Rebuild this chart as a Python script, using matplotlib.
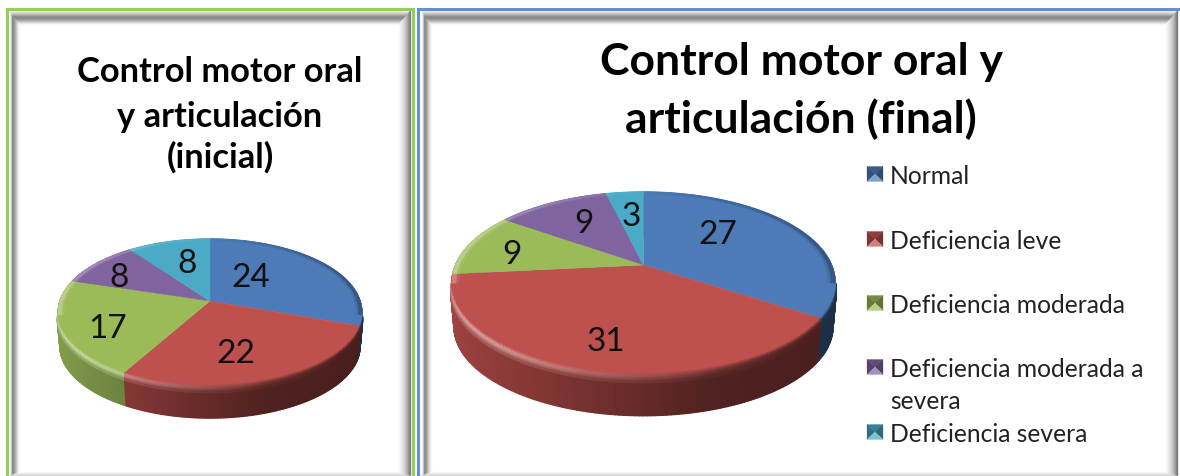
import numpy as np
import matplotlib

matplotlib.use("Agg")

from matplotlib import pyplot as plt  # noqa: E402
from matplotlib.collections import PolyCollection  # noqa: E402

CATEGORIES = [
    "Normal",
    "Deficiencia leve",
    "Deficiencia moderada",
    "Deficiencia moderada a\nsevera",
    "Deficiencia severa",
]
VALUES_INICIAL = [24, 22, 17, 8, 8]
VALUES_FINAL = [27, 31, 9, 9, 3]
TITLE_INICIAL = "Control motor oral\ny articulación\n(inicial)"
TITLE_FINAL = "Control motor oral y\narticulación (final)"

COLORS = ["#4c7bb8", "#be504d", "#9bbb59", "#8064a0", "#4baac5"]
FONT = "Lato"

# disk geometry in pixels: apex, half axes, perspective strength, thickness, bevel
PIE_INICIAL = dict(cx=210, cy=302, a=150, b=71, k=0.145, depth=35, bevel=8)
PIE_FINAL = dict(cx=643.5, cy=266, a=188, b=86.8, k=0.189, depth=45, bevel=10)

# value labels as offsets from the apex of each pie
OFFSETS_INICIAL = [(41, -24), (26, 52), (-102, 27), (-91, -24), (-23, -38)]
OFFSETS_FINAL = [(74, -31), (-38, 76), (-132, -11), (-60, -42), (-12, -49)]


def rgb(color):
    return np.array(matplotlib.colors.to_rgb(color))


def project(pie, theta, radius=1.0, drop=0.0):
    u = radius * np.sin(theta)
    v = -radius * np.cos(theta)
    w = 1 - pie["k"] * v
    return pie["cx"] + pie["a"] * u / w, pie["cy"] + pie["b"] * v / w + drop


def side_color(base, theta):
    shade = np.interp(np.sin(theta), [-1, -0.5, 0.3, 1], [0.85, 0.7, 0.42, 0.38])
    return base * shade


def bevel_color(base, theta, s):
    # light catches the rim on the lower left and fades out towards the right
    angle = np.degrees(theta) % 360
    strength = np.exp(-(((angle - 235) / 65) ** 2))
    peak = base + (1 - base) * 0.5 * strength
    peak = peak * strength + side_color(base, theta) * (1 - strength)
    if s < 0.4:
        return base + (peak - base) * s / 0.4
    return peak + (side_color(base, theta) - peak) * (s - 0.4) / 0.6


def draw_pie(ax, pie, values, offsets):
    fractions = np.array(values) / sum(values)
    edges = np.concatenate([[0], np.cumsum(fractions)]) * 2 * np.pi
    quads = []
    step = np.radians(1.0)

    for i in range(len(values)):
        base = rgb(COLORS[i])
        count = max(int((edges[i + 1] - edges[i]) / step), 2)
        thetas = np.linspace(edges[i], edges[i + 1], count + 1)
        for t0, t1 in zip(thetas[:-1], thetas[1:]):
            mid = (t0 + t1) / 2
            order = -np.cos(mid)
            poly = [
                project(pie, t0, 1.006, pie["bevel"]),
                project(pie, t1, 1.006, pie["bevel"]),
                project(pie, t1, 0.99, pie["depth"]),
                project(pie, t0, 0.99, pie["depth"]),
            ]
            quads.append((order, poly, side_color(base, mid)))
            layers = [(1.0 + 0.006 * s, pie["bevel"] * s, s) for s in np.linspace(0, 1, 7)]
            for (r0, d0, s0), (r1, d1, _) in zip(layers[:-1], layers[1:]):
                poly = [
                    project(pie, t0, r0, d0),
                    project(pie, t1, r0, d0),
                    project(pie, t1, r1, d1),
                    project(pie, t0, r1, d1),
                ]
                quads.append((order + 0.01, poly, bevel_color(base, mid, s0)))

    quads.sort(key=lambda q: q[0])
    polys = [q[1] for q in quads]
    cols = [q[2] for q in quads]
    ax.add_collection(
        PolyCollection(polys, facecolors=cols, edgecolors=cols, linewidths=1.0, zorder=2)
    )

    # flat top face, then a thin shaded ring along its outer edge
    tops, top_cols, rings, ring_cols = [], [], [], []
    for i in range(len(values)):
        base = rgb(COLORS[i])
        count = max(int((edges[i + 1] - edges[i]) / step), 2)
        thetas = np.linspace(edges[i], edges[i + 1], count + 1)
        xs, ys = project(pie, thetas)
        tops.append([(pie["cx"], pie["cy"])] + list(zip(xs, ys)))
        top_cols.append(base)
        for t0, t1 in zip(thetas[:-1], thetas[1:]):
            mid = (t0 + t1) / 2
            lean = np.sin(mid)
            tint = base * (1 - 0.3 * lean) if lean > 0 else base + (1 - base) * 0.3 * -lean
            if np.cos(mid) < -0.2:
                tint = base
            for r0, r1, mix in [(0.965, 0.98, 0.3), (0.98, 1.0, 1.0)]:
                rings.append([
                    project(pie, t0, r0),
                    project(pie, t1, r0),
                    project(pie, t1, r1),
                    project(pie, t0, r1),
                ])
                ring_cols.append(base + (tint - base) * mix)
    ax.add_collection(PolyCollection(tops, facecolors=top_cols, edgecolors=top_cols,
                                     linewidths=0.3, zorder=3))
    ax.add_collection(PolyCollection(rings, facecolors=ring_cols, edgecolors=ring_cols,
                                     linewidths=0.5, zorder=4))

    for value, (dx, dy) in zip(values, offsets):
        ax.text(pie["cx"] + dx, pie["cy"] + dy, str(value), ha="center", va="center",
                fontsize=24, family=FONT, color="#111111", zorder=5)


def draw_frame(ax, x0, y0, x1, y1, top, left, right, bottom, widths):
    # four mitred bevel bands running from the outer edge to the white panel
    steps = 24
    top_w, left_w, right_w, bottom_w = widths
    polys, cols = [], []
    for n in range(steps):
        f0, f1 = n / steps, (n + 1) / steps
        outer = (x0 + left_w * f0, y0 + top_w * f0, x1 - right_w * f0, y1 - bottom_w * f0)
        inner = (x0 + left_w * f1, y0 + top_w * f1, x1 - right_w * f1, y1 - bottom_w * f1)
        a, b, c, d = outer
        e, f, g, h = inner
        sides = [
            ([(a, b), (c, b), (g, f), (e, f)], top),
            ([(a, b), (e, f), (e, h), (a, d)], left),
            ([(c, b), (g, f), (g, h), (c, d)], right),
            ([(a, d), (c, d), (g, h), (e, h)], bottom),
        ]
        for poly, profile in sides:
            gray = np.interp((f0 + f1) / 2, np.linspace(0, 1, len(profile)), profile) / 255
            polys.append(poly)
            cols.append((gray, gray, gray))
    ax.add_collection(PolyCollection(polys, facecolors=cols, edgecolors=cols,
                                     linewidths=0.2, zorder=1))


def draw_legend_marker(ax, x, y, color):
    base = rgb(color)
    size_x, size_y = 16, 15
    x0, x1, y0, y1 = x, x + size_x, y - size_y / 2, y + size_y / 2
    mx, my = x + size_x / 2, y
    polys = [
        [(x0, y0), (x1, y0), (mx, my)],
        [(x0, y0), (x0, y1), (mx, my)],
        [(x1, y0), (x1, y1), (mx, my)],
        [(x0, y1), (x1, y1), (mx, my)],
    ]
    cols = [base * 0.75, base * 0.66, base * 0.62, base + (1 - base) * 0.28]
    ax.add_collection(PolyCollection(polys, facecolors=cols, edgecolors=cols,
                                     linewidths=0.2, zorder=3))


fig = plt.figure(figsize=(11.8, 4.77), dpi=100, facecolor="white")
ax = fig.add_axes([0, 0, 1, 1])
ax.set_xlim(0, 1180)
ax.set_ylim(477, 0)
ax.axis("off")

top_profile = [250, 238, 222, 200, 172, 146, 126, 130, 150, 176, 205, 232, 253]
left_profile = [252, 250, 245, 232, 138, 130, 150, 172, 196, 222, 242, 254]
right_profile = [100, 118, 145, 168, 188, 204, 218, 230, 240, 248, 254]
bottom_profile = [205, 218, 236, 252]

draw_frame(ax, 8, 11, 411, 477, top_profile, left_profile, right_profile, bottom_profile,
           (15, 12, 13, 4))
draw_frame(ax, 420, 11, 1178, 477, top_profile, left_profile, right_profile, bottom_profile,
           (15, 12, 13, 4))

green = "#92d050"
blue = "#5b8fd9"
ax.plot([7, 7, 413, 413], [477, 10, 10, 477], color=green, linewidth=2.1, zorder=2,
        solid_joinstyle="miter")
ax.plot([418, 418, 1180], [477, 10, 10], color=blue, linewidth=2.1, zorder=2,
        solid_joinstyle="miter")

draw_pie(ax, PIE_INICIAL, VALUES_INICIAL, OFFSETS_INICIAL)
draw_pie(ax, PIE_FINAL, VALUES_FINAL, OFFSETS_FINAL)

title_kw = dict(ha="center", va="baseline", family=FONT, fontweight="bold", color="black", zorder=5)
for line, baseline in zip(TITLE_INICIAL.split("\n"), [82, 127, 168]):
    ax.text(220, baseline, line, fontsize=24.8, **title_kw)
for line, baseline in zip(TITLE_FINAL.split("\n"), [75, 133]):
    ax.text(801, baseline, line, fontsize=32, **title_kw)

legend_y = [177, 242, 306, 370, 435]
marker_y = [175, 240, 304, 368, 433]
for label, color, y, my in zip(CATEGORIES, COLORS, legend_y, marker_y):
    draw_legend_marker(ax, 867, my, color)
    for n, line in enumerate(label.split("\n")):
        ax.text(890, y + n * 32, line, ha="left", va="center", fontsize=17.75, family=FONT,
                color="#222222", zorder=5)

fig.savefig("out.png", dpi=100, facecolor="white")
plt.close(fig)
